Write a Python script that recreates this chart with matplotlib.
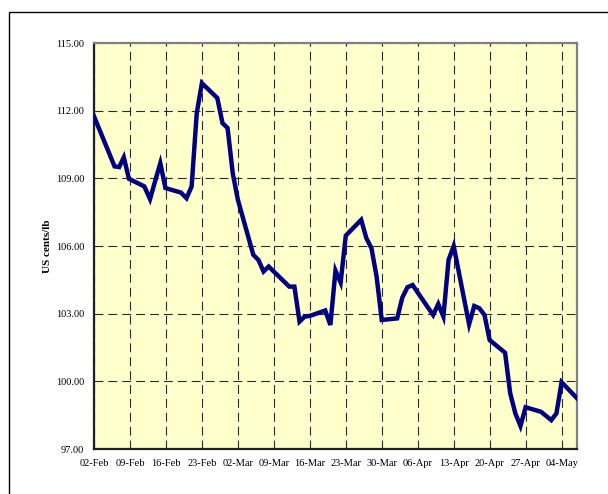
import matplotlib
matplotlib.use("Agg")
import matplotlib.pyplot as plt
from matplotlib.patches import Rectangle
import numpy as np

# day offsets from 02-Feb
days = [0, 4, 4.9, 5.8, 6.8, 9.8, 10.9, 12.9, 13.9, 16.9, 18, 19, 20, 21, 24, 25, 26, 27, 28,
        31, 32, 33, 34, 38, 39, 40, 41, 42, 45, 46, 47, 48, 49, 52, 53, 54, 55, 56,
        59, 60, 61, 62, 66, 67, 68, 69, 70, 73, 74, 75, 76, 77, 80, 81, 82, 83, 84,
        87, 89, 90, 91, 94]
prices = [111.75, 109.53, 109.5, 109.93, 108.98, 108.64, 108.08, 109.67, 108.57, 108.37, 108.12,
          108.64, 111.9, 113.22, 112.56, 111.45, 111.23, 109.23, 108.05,
          105.61, 105.38, 104.87, 105.09, 104.2, 104.2, 102.65, 102.87, 102.9, 103.14, 102.5,
          104.91, 104.38, 106.46, 107.16, 106.35, 105.9, 104.64, 102.72,
          102.79, 103.71, 104.17, 104.27, 102.94, 103.43, 102.87, 105.38, 106.0, 102.53,
          103.34, 103.24, 102.94, 101.83, 101.27, 99.47, 98.58, 98.02, 98.85,
          98.65, 98.28, 98.58, 99.96, 99.25]

tick_days = [0, 7, 14, 21, 28, 35, 42, 49, 56, 63, 70, 77, 84, 91]
tick_labels = ["02-Feb", "09-Feb", "16-Feb", "23-Feb", "02-Mar", "09-Mar", "16-Mar",
               "23-Mar", "30-Mar", "06-Apr", "13-Apr", "20-Apr", "27-Apr", "04-May"]
y_ticks = [97, 100, 103, 106, 109, 112, 115]

plt.rcParams['font.family'] = ['Liberation Serif', 'DejaVu Serif']

fig = plt.figure(figsize=(6.08, 4.94), dpi=100)
fig.patch.set_facecolor('white')
# outer chart border
fig.patches.append(Rectangle((9/608, -0.05), 1.2, 1 - 12/494 + 0.05, transform=fig.transFigure,
                             fill=False, edgecolor='black', linewidth=1.0))

ax = fig.add_axes([94/608, 1 - 449/494, (577-94)/608, (449-43)/494])
ax.set_facecolor('#FFFFCC')
ax.plot(days, prices, color='#000080', linewidth=3.2, solid_joinstyle='miter', zorder=3)

ax.set_xlim(0, 94)
ax.set_ylim(97, 115)
ax.set_xticks(tick_days)
ax.set_xticklabels(tick_labels, fontsize=7.5)
ax.set_yticks(y_ticks)
ax.set_yticklabels([f"{v:.2f}" for v in y_ticks], fontsize=7.5)
ax.tick_params(axis='both', length=0, pad=7)
ax.grid(True, color='#2a2a2a', linestyle=(0, (8, 4.5)), linewidth=0.8, zorder=1)
ax.set_axisbelow(True)

for side in ['top', 'right']:
    ax.spines[side].set_color('#808080')
    ax.spines[side].set_linewidth(1.6)
for side in ['left', 'bottom']:
    ax.spines[side].set_color('#202020')
    ax.spines[side].set_linewidth(1.6)

ax.set_ylabel("US cents/lb", fontsize=8, fontweight='bold', labelpad=3)

fig.savefig("out.png", dpi=100)
